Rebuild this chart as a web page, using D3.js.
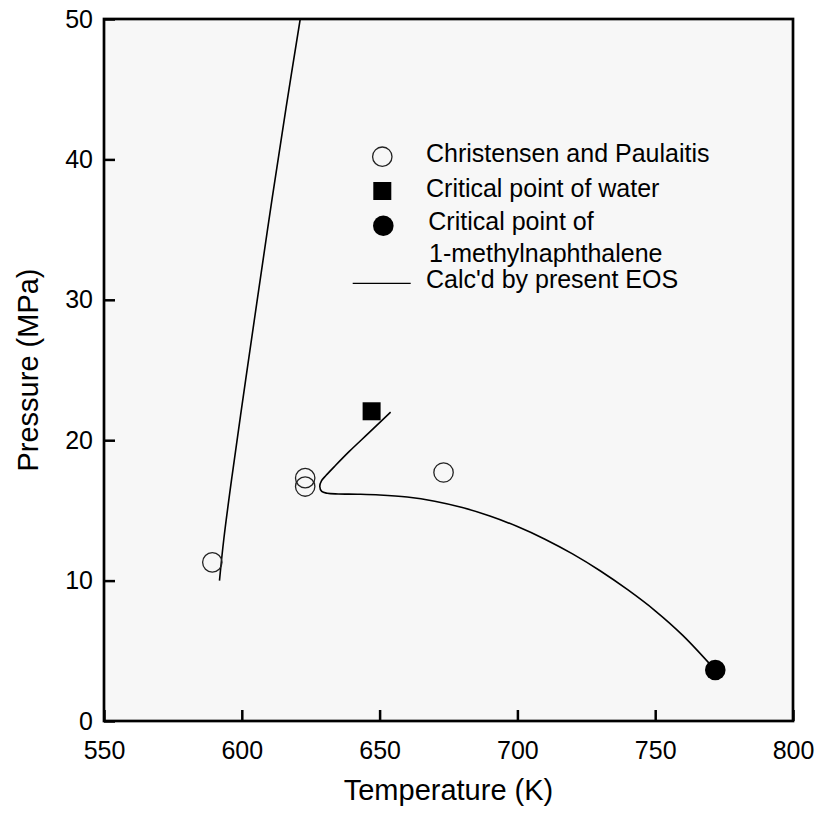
<!DOCTYPE html>
<html>
<head>
<meta charset="utf-8">
<script src="https://cdn.jsdelivr.net/npm/d3@7"></script>
<style>
  body { margin: 0; background: #fff; }
  text { font-family: "Liberation Sans", Arial, sans-serif; fill: #000; }
</style>
</head>
<body>
<div id="chart"></div>
<script>
// data
var xTicks = [550, 600, 650, 700, 750, 800];
var yTicks = [0, 10, 20, 30, 40, 50];

// Christensen and Paulaitis (open circles)
var expT = [589.3, 623.0, 623.0, 673.2];
var expP = [11.3, 17.3, 16.7, 17.7];

// critical points
var waterT = [647.1], waterP = [22.06];
var mnT = [771.8], mnP = [3.63];

// calc'd by present EOS: steep branch
var steepT = [591.9, 593.5, 596.5, 601.4, 606.2, 611.0, 616.0, 621.2];
var steepP = [10.0, 13.0, 17.5, 24.3, 30.8, 37.2, 43.6, 50.0];

// calc'd by present EOS: loop branch
var loopT = [654.0, 646.0, 639.0, 633.5, 630.6, 628.9, 628.3, 629.0, 631.0, 635.0, 642.0, 650.0, 660.0, 670.0, 680.0, 690.0, 700.0, 710.0, 720.0, 730.0, 740.0, 750.0, 760.0, 771.8];
var loopP = [22.0, 20.5, 19.2, 18.1, 17.5, 17.1, 16.7, 16.35, 16.22, 16.17, 16.15, 16.1, 15.95, 15.65, 15.2, 14.6, 13.85, 12.95, 11.9, 10.7, 9.35, 7.85, 6.1, 3.63];

var W = 819, H = 815;
var margin = {top: 19, right: 26, bottom: 94, left: 104};
var width = W - margin.left - margin.right,
    height = H - margin.top - margin.bottom;

var x = d3.scaleLinear().domain([550, 800]).range([0, width]);
var y = d3.scaleLinear().domain([0, 50]).range([height, 0]);

var svg = d3.select("#chart").append("svg")
    .attr("width", W).attr("height", H);
var g = svg.append("g")
    .attr("transform", "translate(" + margin.left + "," + margin.top + ")");

g.append("rect").attr("width", width).attr("height", height).attr("fill", "#f7f7f7");

g.append("clipPath").attr("id", "clip")
  .append("rect").attr("width", width).attr("height", height);

// axes, ticks pointing inward
var xAxis = g.append("g").attr("transform", "translate(0," + height + ")")
    .call(d3.axisBottom(x).tickValues(xTicks).tickSizeInner(-11).tickSizeOuter(0).tickPadding(20));
var yAxis = g.append("g")
    .call(d3.axisLeft(y).tickValues(yTicks).tickSizeInner(-11).tickSizeOuter(0).tickPadding(11));
[xAxis, yAxis].forEach(function(a) {
    a.select(".domain").remove();
    a.selectAll("line").attr("stroke", "#000").attr("stroke-width", 2.5);
    a.selectAll("text").style("font-size", "25px").attr("fill", "#000");
});

g.append("rect").attr("width", width).attr("height", height)
    .attr("fill", "none").attr("stroke", "#000").attr("stroke-width", 2.7);

// curves
var line = d3.line()
    .x(function(d) { return x(d[0]); })
    .y(function(d) { return y(d[1]); })
    .curve(d3.curveCatmullRom.alpha(0.5));

var curves = g.append("g").attr("clip-path", "url(#clip)");
curves.append("path").datum(d3.zip(steepT, steepP))
    .attr("d", line).attr("fill", "none").attr("stroke", "#000").attr("stroke-width", 1.6);
curves.append("path").datum(d3.zip(loopT, loopP))
    .attr("d", line).attr("fill", "none").attr("stroke", "#000").attr("stroke-width", 1.6);

// markers
g.selectAll(".exp").data(d3.zip(expT, expP)).enter().append("circle")
    .attr("class", "exp")
    .attr("cx", function(d) { return x(d[0]); })
    .attr("cy", function(d) { return y(d[1]); })
    .attr("r", 9.7).attr("fill", "none").attr("stroke", "#222").attr("stroke-width", 1.3);

g.selectAll(".water").data(d3.zip(waterT, waterP)).enter().append("rect")
    .attr("class", "water")
    .attr("x", function(d) { return x(d[0]) - 9; })
    .attr("y", function(d) { return y(d[1]) - 9; })
    .attr("width", 18).attr("height", 18).attr("fill", "#000");

g.selectAll(".mn").data(d3.zip(mnT, mnP)).enter().append("circle")
    .attr("class", "mn")
    .attr("cx", function(d) { return x(d[0]); })
    .attr("cy", function(d) { return y(d[1]); })
    .attr("r", 10.3).attr("fill", "#000");

// axis titles
svg.append("text")
    .attr("x", margin.left + width / 2).attr("y", 800)
    .attr("text-anchor", "middle").style("font-size", "29px")
    .text("Temperature (K)");
svg.append("text")
    .attr("transform", "translate(38," + (margin.top + height / 2) + ") rotate(-90)")
    .attr("text-anchor", "middle").style("font-size", "29px")
    .text("Pressure (MPa)");

// legend
var lg = svg.append("g");
lg.append("circle").attr("cx", 382.3).attr("cy", 156.7).attr("r", 9.7)
    .attr("fill", "none").attr("stroke", "#222").attr("stroke-width", 1.3);
lg.append("text").attr("x", 426).attr("y", 161.7).style("font-size", "25px")
    .text("Christensen and Paulaitis");
lg.append("rect").attr("x", 373.3).attr("y", 182).attr("width", 18).attr("height", 18).attr("fill", "#000");
lg.append("text").attr("x", 426).attr("y", 196.7).style("font-size", "25px")
    .text("Critical point of water");
lg.append("circle").attr("cx", 383.3).attr("cy", 225.7).attr("r", 10.3).attr("fill", "#000");
lg.append("text").attr("x", 428.3).attr("y", 230).style("font-size", "25px")
    .text("Critical point of");
lg.append("text").attr("x", 429).attr("y", 261.7).style("font-size", "25px")
    .text("1-methylnaphthalene");
lg.append("line").attr("x1", 352.7).attr("x2", 410.7).attr("y1", 283.3).attr("y2", 283.3)
    .attr("stroke", "#000").attr("stroke-width", 1.3);
lg.append("text").attr("x", 426).attr("y", 288.3).style("font-size", "25px")
    .text("Calc'd by present EOS");
</script>
</body>
</html>
